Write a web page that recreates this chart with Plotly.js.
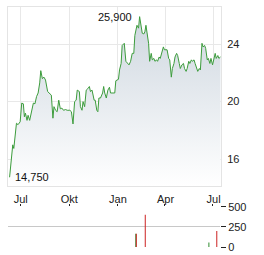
<!DOCTYPE html>
<html>
<head>
<meta charset="utf-8">
<script src="https://cdn.plot.ly/plotly-3.0.1.min.js"></script>
<style>html,body{margin:0;padding:0;background:#fff;}#chart{width:264px;height:255px;}</style>
</head>
<body>
<div id="chart"></div>
<script>
const priceDates = ["2024-06-10","2024-06-13","2024-06-16","2024-06-18","2024-06-20","2024-06-23","2024-06-26","2024-06-30","2024-07-03","2024-07-06","2024-07-08","2024-07-10","2024-07-13","2024-07-15","2024-07-18","2024-07-22","2024-07-25","2024-07-28","2024-07-31","2024-08-03","2024-08-06","2024-08-08","2024-08-11","2024-08-14","2024-08-17","2024-08-21","2024-08-24","2024-08-28","2024-08-31","2024-09-02","2024-09-05","2024-09-08","2024-09-11","2024-09-14","2024-09-17","2024-09-20","2024-09-24","2024-09-27","2024-10-02","2024-10-05","2024-10-08","2024-10-11","2024-10-14","2024-10-16","2024-10-20","2024-10-22","2024-10-25","2024-10-27","2024-10-30","2024-11-02","2024-11-05","2024-11-08","2024-11-10","2024-11-13","2024-11-17","2024-11-19","2024-11-22","2024-11-24","2024-11-26","2024-11-29","2024-12-03","2024-12-05","2024-12-07","2024-12-10","2024-12-13","2024-12-16","2024-12-18","2024-12-23","2024-12-26","2024-12-28","2025-01-02","2025-01-04","2025-01-07","2025-01-09","2025-01-13","2025-01-16","2025-01-19","2025-01-22","2025-01-25","2025-01-28","2025-01-31","2025-02-02","2025-02-06","2025-02-09","2025-02-11","2025-02-14","2025-02-16","2025-02-19","2025-02-21","2025-02-23","2025-02-26","2025-02-28","2025-03-02","2025-03-05","2025-03-07","2025-03-10","2025-03-12","2025-03-15","2025-03-17","2025-03-20","2025-03-22","2025-03-25","2025-03-28","2025-03-30","2025-04-02","2025-04-04","2025-04-07","2025-04-09","2025-04-12","2025-04-14","2025-04-17","2025-04-19","2025-04-22","2025-04-24","2025-04-27","2025-04-29","2025-05-02","2025-05-05","2025-05-07","2025-05-10","2025-05-12","2025-05-15","2025-05-17","2025-05-20","2025-05-22","2025-05-25","2025-05-27","2025-05-30","2025-06-01","2025-06-04","2025-06-06","2025-06-09","2025-06-11","2025-06-14","2025-06-16","2025-06-19","2025-06-21","2025-06-24","2025-06-26","2025-06-29","2025-07-01","2025-07-04","2025-07-06","2025-07-09","2025-07-11","2025-07-14"];
const priceValues = [14.75,16.2,17.0,16.75,17.3,18.5,18.4,18.6,19.9,19.85,18.95,19.2,18.7,19.05,18.7,19.3,19.9,19.85,20.35,20.6,21.3,22.15,21.6,21.7,21.5,20.7,20.6,20.45,18.85,19.65,19.4,19.3,20.1,19.5,19.55,19.4,19.45,19.4,19.4,19.3,18.45,20.0,20.1,20.8,20.7,19.65,19.4,20.0,19.65,20.8,20.9,21.05,20.7,20.8,20.1,20.1,19.4,19.3,20.25,20.25,20.6,21.05,20.6,20.25,20.8,21.0,20.6,20.6,20.6,21.45,21.55,22.2,22.65,23.9,24.05,22.8,22.65,22.55,22.8,23.35,23.35,24.6,25.3,25.1,25.9,25.2,24.75,24.7,24.85,25.3,24.4,24.05,22.8,23.35,22.9,23.0,22.8,22.9,22.8,23.1,23.0,23.35,23.8,23.6,23.6,23.6,23.0,22.9,21.7,22.3,22.65,23.1,23.35,23.2,22.65,22.3,22.55,22.65,22.3,22.1,22.3,22.8,22.65,22.9,22.8,22.9,22.65,22.3,22.1,22.3,22.2,24.05,23.8,23.9,23.7,22.9,23.0,22.65,23.0,22.55,22.9,23.35,23.0,23.2,23.0,23.1];

const volDates = ["2025-02-05","2025-02-06","2025-02-23","2025-06-24","2025-07-09"];
const volValues = [167,167,404,55,200];
const volColors = ["#2e8b2e","#cc2222","#cc2222","#2e8b2e","#cc2222"];

const maxLabel = "25,900";
const minLabel = "14,750";
const xTickVals = ["2024-07-01","2024-10-01","2025-01-01","2025-04-01","2025-07-01"];
const xTickText = ["Jul","Okt","Jan","Apr","Jul"];
const yTickVals = [16,20,24];
const volTickVals = [0,250,500];

const iMax = priceValues.indexOf(Math.max(...priceValues));
const iMin = priceValues.indexOf(Math.min(...priceValues));

const font = {family:"Liberation Sans, Arial, sans-serif", size:11, color:"#222"};

const traces = [
  {
    x: priceDates, y: priceValues, type:"scatter", mode:"lines",
    line:{color:"#3c9c3c", width:1},
    fill:"tozeroy",
    fillcolor:"rgba(214,221,228,0.8)",
    fillgradient:{type:"vertical", colorscale:[[0,"rgba(255,255,255,1)"],[1,"rgb(210,218,226)"]], start:14.1, stop:25.0},
    xaxis:"x", yaxis:"y", hoverinfo:"skip"
  },
  {
    x: volDates, y: volValues, type:"bar",
    marker:{color:volColors, line:{width:0}},
    width: 1.9*86400000,
    xaxis:"x2", yaxis:"y2", hoverinfo:"skip"
  }
];

const xr = ["2024-06-07","2025-07-15"];

const layout = {
  width:264, height:255,
  margin:{l:8, r:43, t:7, b:8},
  paper_bgcolor:"#fff", plot_bgcolor:"#fff",
  showlegend:false,
  font: font,
  xaxis:{
    type:"date", range:xr, domain:[0,1], anchor:"y",
    tickmode:"array", tickvals:xTickVals, ticktext:xTickText,
    showgrid:true, gridcolor:"#e8e8e8", gridwidth:1,
    showline:true, linecolor:"#e4e4e4", mirror:true, linewidth:1,
    ticks:"outside", ticklen:3, tickcolor:"rgba(0,0,0,0)",
    tickfont:font, zeroline:false, fixedrange:true
  },
  yaxis:{
    range:[14.14,26.57], domain:[0.254,1], anchor:"x", side:"right",
    tickmode:"array", tickvals:yTickVals,
    showgrid:true, gridcolor:"#e8e8e8", gridwidth:1,
    showline:true, linecolor:"#e4e4e4", mirror:true, linewidth:1,
    ticks:"outside", ticklen:3, tickcolor:"rgba(0,0,0,0)",
    tickfont:font, zeroline:false, fixedrange:true
  },
  xaxis2:{
    type:"date", range:xr, domain:[0,0.995], anchor:"y2", side:"top",
    tickmode:"array", tickvals:xTickVals, showticklabels:false,
    showgrid:false, showline:false, zeroline:false,
    ticks:"outside", ticklen:2, tickcolor:"#222", tickwidth:1, fixedrange:true
  },
  yaxis2:{
    range:[0,500], domain:[0,0.1667], anchor:"x2", side:"right",
    tickmode:"array", tickvals:volTickVals, ticktext:["0","250","500"],
    showgrid:true, gridcolor:"#c8c8c8", gridwidth:1,
    showline:false, zeroline:false,
    ticks:"outside", ticklen:5, tickcolor:"#222", tickwidth:1,
    tickfont:font, fixedrange:true
  },
  annotations:[
    {x:priceDates[iMax], y:priceValues[iMax], xref:"x", yref:"y", text:maxLabel, showarrow:false,
     xanchor:"right", yanchor:"middle", xshift:-6, yshift:0, font:{family:font.family,size:11,color:"#111"}},
    {x:priceDates[iMin], y:priceValues[iMin], xref:"x", yref:"y", text:minLabel, showarrow:false,
     xanchor:"left", yanchor:"middle", xshift:3, yshift:0, font:{family:font.family,size:11,color:"#111"}}
  ]
};

Plotly.newPlot("chart", traces, layout, {staticPlot:true, displayModeBar:false});
</script>
</body>
</html>
